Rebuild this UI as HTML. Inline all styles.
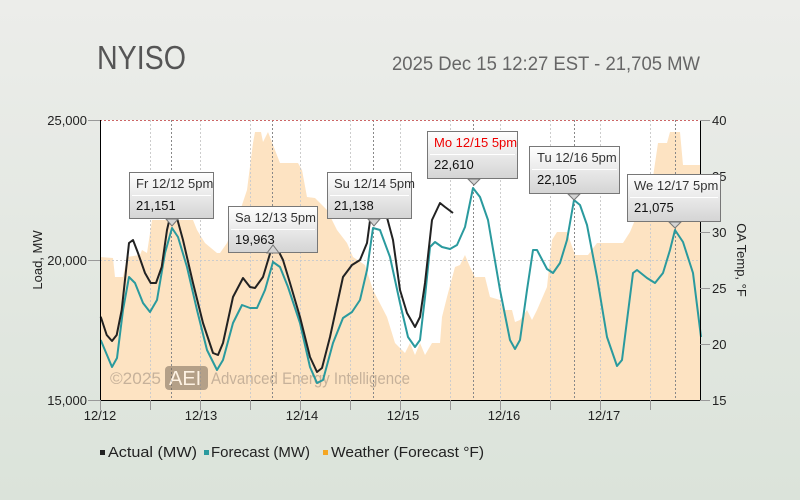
<!DOCTYPE html>
<html><head><meta charset="utf-8"><style>
html,body{margin:0;padding:0;}
body{width:800px;height:500px;overflow:hidden;background:linear-gradient(#ecedea,#dbe3da);font-family:"Liberation Sans","DejaVu Sans",sans-serif;}
svg{display:block}
text{font-family:"Liberation Sans","DejaVu Sans",sans-serif;}
</style></head><body>
<svg width="800" height="500" viewBox="0 0 800 500" xmlns="http://www.w3.org/2000/svg">
<defs>
<linearGradient id="tg" x1="0" y1="0" x2="0" y2="1"><stop offset="0" stop-color="#ffffff"/><stop offset="1" stop-color="#d4d4d4"/></linearGradient>
</defs>
<text x="97" y="69" font-size="33" fill="#555" textLength="89" lengthAdjust="spacingAndGlyphs">NYISO</text>
<text x="700" y="70" font-size="19" fill="#666" text-anchor="end" textLength="308" lengthAdjust="spacingAndGlyphs">2025 Dec 15 12:27 EST - 21,705 MW</text>
<rect x="100" y="120" width="600" height="280" fill="#fff"/>
<polygon fill="#fde3c2" points="100,400 100,257 113,258 115,277 123,277 127,257 140,255 142,250 147,253 152,220 180,220 193,220 197,230 205,243 217,253 220,253 227,243 237,220 247,190 253,143 255,132 261,132 263,142 268,132 280,163 298,163 302,170 307,197 315,198 327,210 337,230 347,243 353,257 365,265 373,290 387,317 395,343 402,350 405,353 410,343 415,355 420,343 425,355 432,343 440,343 442,317 447,297 455,267 460,265 465,255 470,267 475,277 485,277 490,297 500,300 503,310 512,310 515,322 520,320 527,310 532,320 537,310 547,287 552,240 557,232 567,232 575,255 588,255 597,243 623,243 630,232 635,220 647,213 653,177 658,143 667,143 670,132 680,132 683,165 700,165 700,400"/>
<g stroke="#ccc" stroke-dasharray="2,2" stroke-width="1">
<line x1="150.5" y1="120" x2="150.5" y2="400"/><line x1="200.5" y1="120" x2="200.5" y2="400"/><line x1="250.5" y1="120" x2="250.5" y2="400"/><line x1="300.5" y1="120" x2="300.5" y2="400"/><line x1="350.5" y1="120" x2="350.5" y2="400"/><line x1="400.5" y1="120" x2="400.5" y2="400"/><line x1="450.5" y1="120" x2="450.5" y2="400"/><line x1="500.5" y1="120" x2="500.5" y2="400"/><line x1="550.5" y1="120" x2="550.5" y2="400"/><line x1="600.5" y1="120" x2="600.5" y2="400"/><line x1="650.5" y1="120" x2="650.5" y2="400"/>
<line x1="100" y1="260.5" x2="700" y2="260.5"/>
</g>
<g stroke="#888" stroke-dasharray="2,2" stroke-width="1">
<line x1="171.5" y1="120" x2="171.5" y2="400"/><line x1="272.5" y1="120" x2="272.5" y2="400"/><line x1="373.5" y1="120" x2="373.5" y2="400"/><line x1="473.5" y1="120" x2="473.5" y2="400"/><line x1="574.5" y1="120" x2="574.5" y2="400"/><line x1="675.5" y1="120" x2="675.5" y2="400"/>
</g>
<line x1="100" y1="120.5" x2="700" y2="120.5" stroke="#c66" stroke-dasharray="2,2"/>
<g font-size="17" fill="#9a8a7a" opacity="0.55">
<text x="110" y="384" textLength="51" lengthAdjust="spacingAndGlyphs">©2025</text>
<rect x="165" y="366" width="43" height="24" rx="4" fill="#7a6a5a"/>
<text x="169" y="385" font-size="20" fill="#fff">AEI</text>
<text x="211" y="384" textLength="199" lengthAdjust="spacingAndGlyphs">Advanced Energy Intelligence</text>
</g>
<polyline fill="none" stroke="#2a9a9e" stroke-width="2" stroke-linejoin="round" points="100.7,340 112,367 117,358 123,310 129,277 135,283 143,303 150,312 157,300 165,253 172,228 178,237 187,267 197,310 207,350 217,370 223,360 233,323 242,305 250,308 257,308 265,290 273,262 280,267 288,287 300,323 310,367 317,383 323,380 333,343 343,318 352,312 360,300 367,270 373,228 380,230 390,257 400,303 408,337 415,347 420,340 425,297 430,247 435,242 442,247 450,249 457,245 465,227 473,188 480,197 488,220 500,290 510,340 515,349 520,340 527,290 533,250 537,250 547,269 553,273 560,263 567,240 574,200 580,205 587,225 597,277 607,337 617,366 622,360 633,273 637,270 647,278 655,283 663,273 670,250 675,230 683,242 693,273 701,337"/>
<polyline fill="none" stroke="#222" stroke-width="2" stroke-linejoin="round" points="100.7,316.7 106.7,335 112,341 116.7,335 121.7,310 129,243 133,240 138,253 145,273 150.7,283 156,283 161.7,267 167,230 171.7,210 176.7,217 183,240 193,283 203,323 213,353 218,355 223,343 233,297 243,278 250,287 255,288 263,277 272,247 278,250 283,260 290,283 300,317 310,357 317,372 322,368 330,337 343,277 352,265 360,260 367,243 373,198 378,198 385,210 393,240 400,290 407,313 415,327 420,317 425,283 432,220 440,203 445,207 453,213"/>
<line x1="100.5" y1="120" x2="100.5" y2="400" stroke="#000"/>
<line x1="100" y1="400.5" x2="700" y2="400.5" stroke="#000"/>
<line x1="700.5" y1="120" x2="700.5" y2="400" stroke="#000"/>
<g stroke="#999"><line x1="100.5" y1="400" x2="100.5" y2="410"/><line x1="150.5" y1="400" x2="150.5" y2="410"/><line x1="200.5" y1="400" x2="200.5" y2="410"/><line x1="250.5" y1="400" x2="250.5" y2="410"/><line x1="300.5" y1="400" x2="300.5" y2="410"/><line x1="350.5" y1="400" x2="350.5" y2="410"/><line x1="400.5" y1="400" x2="400.5" y2="410"/><line x1="450.5" y1="400" x2="450.5" y2="410"/><line x1="500.5" y1="400" x2="500.5" y2="410"/><line x1="550.5" y1="400" x2="550.5" y2="410"/><line x1="600.5" y1="400" x2="600.5" y2="410"/><line x1="650.5" y1="400" x2="650.5" y2="410"/>
<line x1="88" y1="120.5" x2="100" y2="120.5"/><line x1="88" y1="260.5" x2="100" y2="260.5"/><line x1="88" y1="400.5" x2="100" y2="400.5"/>
<line x1="700" y1="120.5" x2="710" y2="120.5"/><line x1="700" y1="176.5" x2="710" y2="176.5"/><line x1="700" y1="232.5" x2="710" y2="232.5"/><line x1="700" y1="288.5" x2="710" y2="288.5"/><line x1="700" y1="344.5" x2="710" y2="344.5"/><line x1="700" y1="400.5" x2="710" y2="400.5"/></g>
<g font-size="13" fill="#222">
<text x="87" y="125" text-anchor="end">25,000</text><text x="87" y="265" text-anchor="end">20,000</text><text x="87" y="405" text-anchor="end">15,000</text>
<text x="712" y="125">40</text><text x="712" y="181">35</text><text x="712" y="237">30</text><text x="712" y="293">25</text><text x="712" y="349">20</text><text x="712" y="405">15</text>
<g text-anchor="middle"><text x="100" y="420">12/12</text><text x="201" y="420">12/13</text><text x="302" y="420">12/14</text><text x="403" y="420">12/15</text><text x="504" y="420">12/16</text><text x="604" y="420">12/17</text></g>
<text transform="translate(42,260) rotate(-90)" text-anchor="middle">Load, MW</text>
<text transform="translate(737,260) rotate(90)" text-anchor="middle">OA Temp, °F</text>
</g>
<g font-size="13">
<g><rect x="129.5" y="172.5" width="84" height="46" fill="url(#tg)" stroke="#777"/><polygon points="166,219 172,226 178,219" fill="#d4d4d4" stroke="#777"/><line x1="132" y1="195.5" x2="211" y2="195.5" stroke="#fff"/><text x="136" y="188" fill="#333">Fr 12/12 5pm</text><text x="136" y="210" fill="#111">21,151</text></g>
<g><rect x="228.5" y="206.5" width="89" height="46" fill="url(#tg)" stroke="#777"/><polygon points="267,253 273,245 279,253" fill="#d4d4d4" stroke="#777"/><line x1="231" y1="229.5" x2="315" y2="229.5" stroke="#fff"/><text x="235" y="222" fill="#333">Sa 12/13 5pm</text><text x="235" y="244" fill="#111">19,963</text></g>
<g><rect x="327.5" y="172.5" width="84" height="46" fill="url(#tg)" stroke="#777"/><polygon points="368,219 374,226 380,219" fill="#d4d4d4" stroke="#777"/><line x1="330" y1="195.5" x2="409" y2="195.5" stroke="#fff"/><text x="334" y="188" fill="#333">Su 12/14 5pm</text><text x="334" y="210" fill="#111">21,138</text></g>
<g><rect x="427.5" y="131.5" width="90" height="47" fill="url(#tg)" stroke="#777"/><polygon points="468,179 474,185 480,179" fill="#d4d4d4" stroke="#777"/><line x1="430" y1="154.5" x2="515" y2="154.5" stroke="#fff"/><text x="434" y="147" fill="#e00">Mo 12/15 5pm</text><text x="434" y="169" fill="#111">22,610</text></g>
<g><rect x="529.5" y="146.5" width="90" height="47" fill="url(#tg)" stroke="#777"/><polygon points="568,194 574,200 580,194" fill="#d4d4d4" stroke="#777"/><line x1="532" y1="169.5" x2="617" y2="169.5" stroke="#fff"/><text x="537" y="162" fill="#333">Tu 12/16 5pm</text><text x="537" y="184" fill="#111">22,105</text></g>
<g><rect x="627.5" y="174.5" width="93" height="47" fill="url(#tg)" stroke="#777"/><polygon points="669,222 675,228 681,222" fill="#d4d4d4" stroke="#777"/><line x1="630" y1="197.5" x2="718" y2="197.5" stroke="#fff"/><text x="634" y="190" fill="#333">We 12/17 5pm</text><text x="634" y="212" fill="#111">21,075</text></g>
</g>
<g font-size="15" fill="#222">
<rect x="100" y="450" width="5" height="5" fill="#222"/><text x="108" y="457" textLength="89" lengthAdjust="spacingAndGlyphs">Actual (MW)</text>
<rect x="204" y="450" width="5" height="5" fill="#2a9a9e"/><text x="211" y="457" textLength="99" lengthAdjust="spacingAndGlyphs">Forecast (MW)</text>
<rect x="323" y="450" width="5" height="5" fill="#f5a623"/><text x="331" y="457" textLength="153" lengthAdjust="spacingAndGlyphs">Weather (Forecast °F)</text>
</g>
</svg>
</body></html>
